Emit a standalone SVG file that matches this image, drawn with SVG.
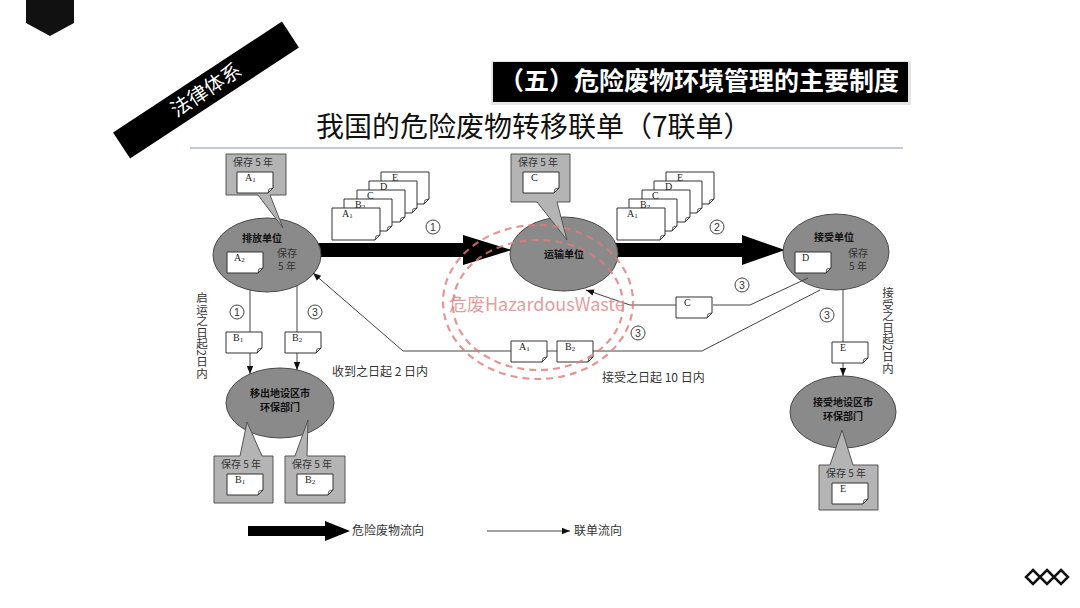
<svg xmlns="http://www.w3.org/2000/svg" xmlns:xlink="http://www.w3.org/1999/xlink" width="1080" height="608" viewBox="0 0 1080 608">
<style>
.cjk{font-family:"Noto Sans CJK SC","Noto Sans",sans-serif}
.node{fill:#8a8a8a;stroke:#4a4a4a;stroke-width:1}
.call{fill:#b4b4b4;stroke:#555;stroke-width:1}
.doc{fill:#fff;stroke:#333;stroke-width:1}
.fold{fill:none;stroke:#333;stroke-width:0.8}
.lbl{font-family:"Liberation Serif",serif;font-size:10px;fill:#222}
.sub{font-size:7px}
.ntxt{font-family:"Noto Sans CJK SC",sans-serif;font-size:10px;font-weight:700;fill:#111;text-anchor:middle}
.small{font-family:"Noto Sans CJK SC",sans-serif;font-size:10px;fill:#333}
.note{font-family:"Noto Sans CJK SC",sans-serif;font-size:12px;fill:#333}
.mid{text-anchor:middle}
.cn circle{fill:none;stroke:#444;stroke-width:1}
.cn text{font-family:"Liberation Sans",sans-serif;font-size:10.5px;fill:#333;text-anchor:middle}
.conn{fill:none;stroke:#444;stroke-width:1}
.vert{font-family:"Noto Sans CJK SC",sans-serif;font-size:11.5px;fill:#333;writing-mode:vertical-rl}
.wm{fill:none;stroke:#e07a7a;stroke-width:2.2;stroke-dasharray:7 5;opacity:0.8}
</style>
<defs>
<g id="doc"><path class="doc" d="M0,0H36V16L31,21H0Z"/><path class="fold" d="M31,21L32,17L36,16"/></g>
<g id="sheet"><path class="doc" d="M0,0H48V27L43,32H0Z"/><path class="fold" d="M43,32L44,28L48,27"/></g>
<marker id="ah" viewBox="0 0 10 10" refX="10" refY="5" markerWidth="8" markerHeight="8" markerUnits="userSpaceOnUse" orient="auto"><path d="M0,1L10,5L0,9Z" fill="#111"/></marker>
</defs>
<rect width="1080" height="608" fill="#fff"/>

<!-- header -->
<g id="header">
<polygon points="26,0 74,0 74,23 50,36 26,23" fill="#111"/>
<g transform="translate(206,90) rotate(-33.3)">
<rect x="-101" y="-15.5" width="202" height="31" fill="#000"/>
<text x="0" y="7" class="cjk mid" font-size="20" fill="#fff">法律体系</text>
</g>
<rect x="491" y="61" width="420" height="44" fill="#e4e4e4"/>
<rect x="493" y="62" width="415" height="40" fill="#000"/>
<text x="499" y="90" class="cjk" font-size="25" font-weight="700" fill="#fff">（五）危险废物环境管理的主要制度</text>
<text x="316" y="137" class="cjk" font-size="28" fill="#111">我国的危险废物转移联单（7联单）</text>
<line x1="190" y1="148" x2="903" y2="148" stroke="#aebbd6" stroke-width="1.5"/>
</g>

<!-- thick waste-flow arrows -->
<g id="flow">
<path d="M310,243H463V235L512,250L463,265V257H310Z" fill="#000"/>
<path d="M610,243H742V235L785,250L742,265V257H610Z" fill="#000"/>
</g>

<!-- document stacks -->
<g id="stack1">
<use xlink:href="#sheet" x="381" y="172"/><text x="392" y="181" class="lbl">E</text>
<use xlink:href="#sheet" x="369" y="181"/><text x="380" y="190" class="lbl">D</text>
<use xlink:href="#sheet" x="357" y="190"/><text x="367" y="199" class="lbl">C</text>
<use xlink:href="#sheet" x="344" y="199"/><text x="355" y="208" class="lbl">B<tspan class="sub" dy="1">2</tspan></text>
<use xlink:href="#sheet" x="332" y="208"/><text x="342" y="217" class="lbl">A<tspan class="sub" dy="1">1</tspan></text>
<g class="cn"><circle cx="433" cy="227" r="7"/><text x="433" y="231">1</text></g>
</g>
<g id="stack2">
<use xlink:href="#sheet" x="666" y="172"/><text x="677" y="181" class="lbl">E</text>
<use xlink:href="#sheet" x="654" y="181"/><text x="665" y="190" class="lbl">D</text>
<use xlink:href="#sheet" x="642" y="190"/><text x="652" y="199" class="lbl">C</text>
<use xlink:href="#sheet" x="629" y="199"/><text x="640" y="208" class="lbl">B<tspan class="sub" dy="1">2</tspan></text>
<use xlink:href="#sheet" x="617" y="208"/><text x="627" y="217" class="lbl">A<tspan class="sub" dy="1">1</tspan></text>
<g class="cn"><circle cx="717" cy="227" r="7"/><text x="717" y="231">2</text></g>
</g>

<!-- nodes -->
<g id="n-paifang">
<ellipse class="node" cx="267" cy="255" rx="54" ry="37"/>
<text x="262" y="242" class="ntxt">排放单位</text>
<use xlink:href="#doc" x="227" y="252"/><text x="234" y="261" class="lbl">A<tspan class="sub" dy="1">2</tspan></text>
<text x="287" y="257" class="small mid">保存</text>
<text x="287" y="270" class="small mid">5 年</text>
<path class="call" d="M226,154H286V195H270L283,228L258,195H226Z"/>
<text x="233" y="166" class="small">保存 5 年</text>
<use xlink:href="#doc" x="237" y="172"/><text x="245" y="181" class="lbl">A<tspan class="sub" dy="1">1</tspan></text>
</g>

<g id="n-yunshu">
<ellipse class="node" cx="564" cy="254" rx="54" ry="37"/>
<text x="564" y="258" class="ntxt">运输单位</text>
<path class="call" d="M511,154H570V202H557L567,240L537,202H511Z"/>
<text x="518" y="166" class="small">保存 5 年</text>
<use xlink:href="#doc" x="523" y="172"/><text x="531" y="181" class="lbl">C</text>
</g>

<g id="n-jieshou">
<ellipse class="node" cx="836" cy="252" rx="53" ry="38"/>
<text x="834" y="241" class="ntxt">接受单位</text>
<use xlink:href="#doc" x="795" y="252"/><text x="802" y="261" class="lbl">D</text>
<text x="858" y="257" class="small mid">保存</text>
<text x="858" y="270" class="small mid">5 年</text>
</g>

<g id="n-yichu">
<ellipse class="node" cx="280" cy="403" rx="54" ry="35"/>
<text x="280" y="397" class="ntxt">移出地设区市</text>
<text x="280" y="411" class="ntxt">环保部门</text>
<path class="call" d="M214,456H240L247,422L262,456H273V503H214Z"/>
<text x="221" y="468" class="small">保存 5 年</text>
<use xlink:href="#doc" x="227" y="474"/><text x="235" y="483" class="lbl">B<tspan class="sub" dy="1">1</tspan></text>
<path class="call" d="M285,456H295L308,420L307,456H345V503H285Z"/>
<text x="292" y="468" class="small">保存 5 年</text>
<use xlink:href="#doc" x="297" y="474"/><text x="305" y="483" class="lbl">B<tspan class="sub" dy="1">2</tspan></text>
</g>

<g id="n-jieshoudi">
<ellipse class="node" cx="843" cy="412" rx="53" ry="36"/>
<text x="843" y="406" class="ntxt">接受地设区市</text>
<text x="843" y="420" class="ntxt">环保部门</text>
<path class="call" d="M819,465H830L842,430L853,465H878V510H819Z"/>
<text x="826" y="477" class="small">保存 5 年</text>
<use xlink:href="#doc" x="832" y="483"/><text x="840" y="492" class="lbl">E</text>
</g>

<!-- connectors (manifest flow) -->
<g id="connectors">
<line class="conn" x1="250" y1="290" x2="250" y2="332"/>
<line class="conn" x1="250" y1="353" x2="250" y2="374" marker-end="url(#ah)"/>
<use xlink:href="#doc" x="226" y="332"/><text x="233" y="341" class="lbl">B<tspan class="sub" dy="1">1</tspan></text>
<g class="cn"><circle cx="237" cy="312" r="7"/><text x="237" y="316">1</text></g>

<line class="conn" x1="297" y1="286" x2="297" y2="332"/>
<line class="conn" x1="297" y1="353" x2="297" y2="370" marker-end="url(#ah)"/>
<use xlink:href="#doc" x="285" y="332"/><text x="292" y="341" class="lbl">B<tspan class="sub" dy="1">2</tspan></text>
<g class="cn"><circle cx="315" cy="312" r="7"/><text x="315" y="316">3</text></g>

<polyline class="conn" points="808,278 750,305 713,305"/>
<polyline class="conn" points="676,305 630,305 586,290" marker-end="url(#ah)"/>
<use xlink:href="#doc" x="676" y="297"/><text x="684" y="306" class="lbl">C</text>
<g class="cn"><circle cx="742" cy="285" r="7"/><text x="742" y="289">3</text></g>

<polyline class="conn" points="820,290 702,351 593,351"/>
<line class="conn" x1="547" y1="351" x2="557" y2="351"/>
<polyline class="conn" points="511,351 403,351 313,273" marker-end="url(#ah)"/>
<use xlink:href="#doc" x="511" y="341"/><text x="519" y="350" class="lbl">A<tspan class="sub" dy="1">1</tspan></text>
<use xlink:href="#doc" x="557" y="341"/><text x="565" y="350" class="lbl">B<tspan class="sub" dy="1">2</tspan></text>
<g class="cn"><circle cx="638" cy="333" r="7"/><text x="638" y="337">3</text></g>

<line class="conn" x1="843" y1="290" x2="843" y2="342"/>
<line class="conn" x1="843" y1="362" x2="843" y2="376" marker-end="url(#ah)"/>
<use xlink:href="#doc" x="832" y="342"/><text x="840" y="351" class="lbl">E</text>
<g class="cn"><circle cx="827" cy="315" r="7"/><text x="827" y="319">3</text></g>
</g>

<!-- annotations -->
<g id="notes">
<text x="202" y="292" class="vert">启运之日起2日内</text>
<text x="888" y="287" class="vert">接受之日起2日内</text>
<text x="332" y="376" class="note">收到之日起 2 日内</text>
<text x="602" y="382" class="note">接受之日起 10 日内</text>
</g>

<!-- legend -->
<g id="legend">
<path d="M248,526H325V521L350,531L325,541V536H248Z" fill="#000"/>
<text x="352" y="535" class="note">危险废物流向</text>
<line class="conn" x1="487" y1="531" x2="570" y2="531" marker-end="url(#ah)"/>
<text x="574" y="535" class="note">联单流向</text>
</g>

<!-- watermark stamp -->
<g id="watermark">
<ellipse class="wm" cx="538" cy="302" rx="95" ry="77"/>
<ellipse class="wm" cx="538" cy="305" rx="85" ry="65"/>
<text x="449" y="311" font-family="'Noto Sans CJK SC','Noto Sans',sans-serif" font-size="18" fill="#e28d8d" opacity="0.85">危废HazardousWaste</text>
</g>

<!-- corner icon -->
<g id="icon" fill="none" stroke="#111" stroke-width="2.5">
<path d="M1033,570L1040,577L1033,584L1026,577Z"/>
<path d="M1047,570L1054,577L1047,584L1040,577Z"/>
<path d="M1061,570L1068,577L1061,584L1054,577Z"/>
</g>
</svg>
